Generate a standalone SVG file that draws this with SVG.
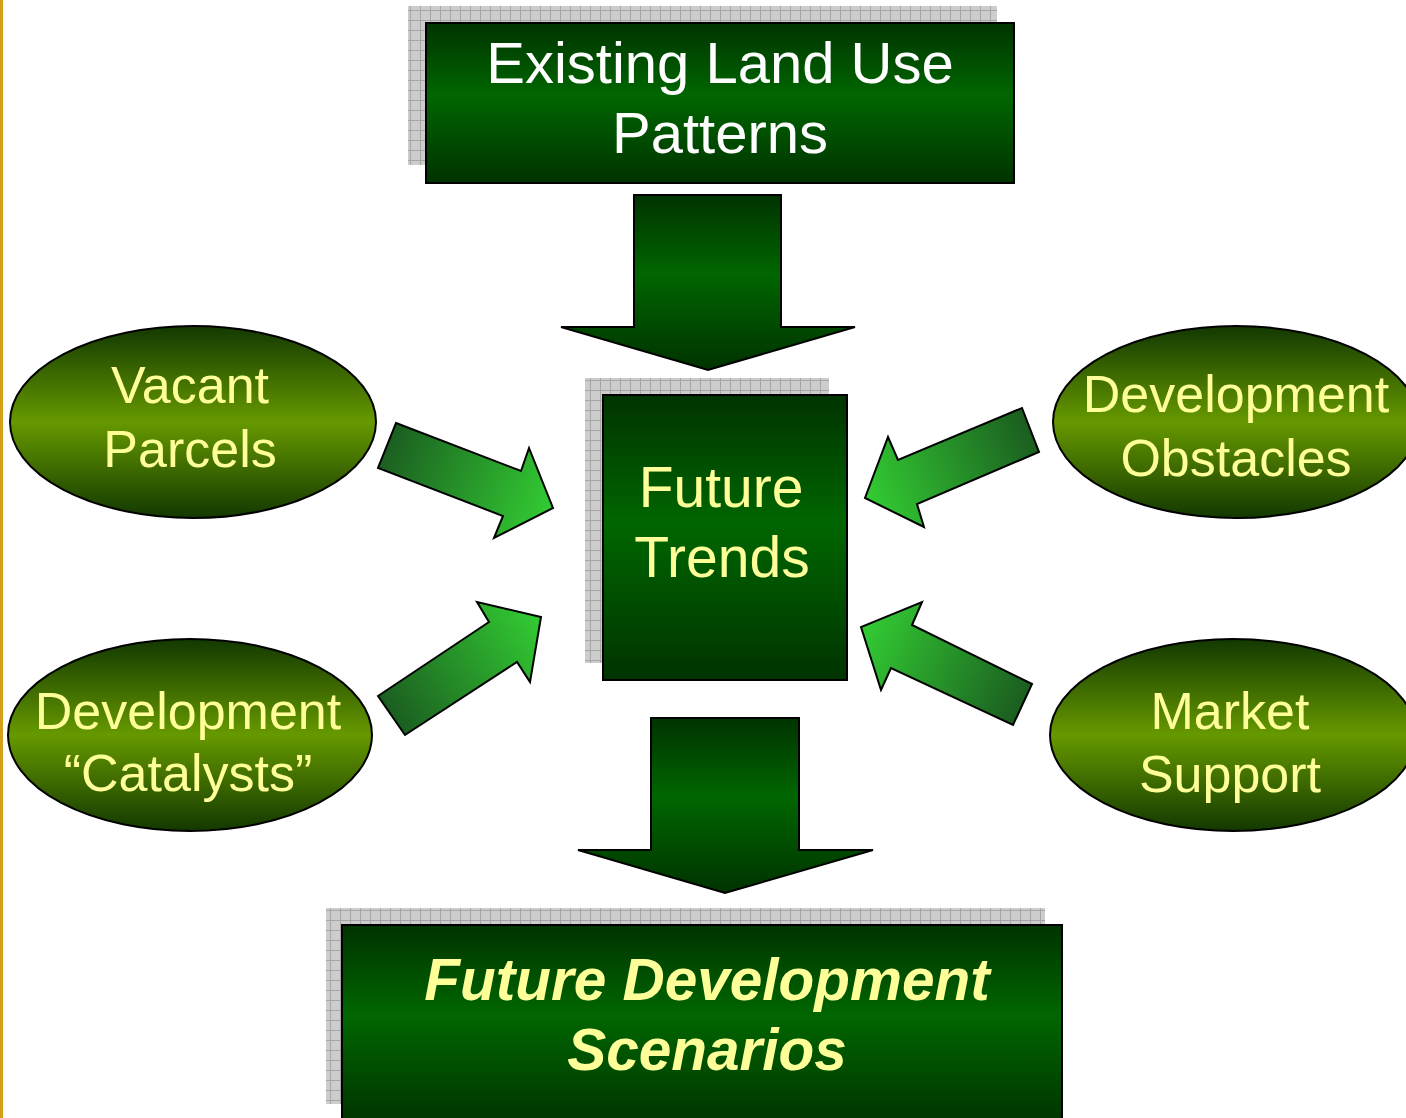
<svg xmlns="http://www.w3.org/2000/svg" width="1406" height="1118" viewBox="0 0 1406 1118">
<defs>
  <linearGradient id="boxGrad" x1="0" y1="0" x2="0" y2="1">
    <stop offset="0" stop-color="#003300"/>
    <stop offset="0.45" stop-color="#006600"/>
    <stop offset="1" stop-color="#003300"/>
  </linearGradient>
  <linearGradient id="ellGrad" x1="0" y1="0" x2="0" y2="1">
    <stop offset="0" stop-color="#133800"/>
    <stop offset="0.5" stop-color="#669900"/>
    <stop offset="1" stop-color="#133800"/>
  </linearGradient>
  <pattern id="grid" width="10" height="10" patternUnits="userSpaceOnUse">
    <rect width="10" height="10" fill="#cdcdcd"/>
    <path d="M0 0.5H10M0.5 0V10" stroke="#a6a6a6" stroke-width="1" fill="none"/>
  </pattern>
  <linearGradient id="ag1" gradientUnits="userSpaceOnUse" x1="387" y1="445" x2="553" y2="508">
    <stop offset="0" stop-color="#1b5e20"/><stop offset="1" stop-color="#33cc33"/>
  </linearGradient>
  <linearGradient id="ag2" gradientUnits="userSpaceOnUse" x1="1030" y1="430" x2="865" y2="498">
    <stop offset="0" stop-color="#1b5e20"/><stop offset="1" stop-color="#33cc33"/>
  </linearGradient>
  <linearGradient id="ag3" gradientUnits="userSpaceOnUse" x1="391" y1="715" x2="541" y2="617">
    <stop offset="0" stop-color="#1b5e20"/><stop offset="1" stop-color="#33cc33"/>
  </linearGradient>
  <linearGradient id="ag4" gradientUnits="userSpaceOnUse" x1="1022" y1="704" x2="861" y2="627">
    <stop offset="0" stop-color="#1b5e20"/><stop offset="1" stop-color="#33cc33"/>
  </linearGradient>
</defs>
<style>
  .box { fill: url(#boxGrad); stroke: #000; stroke-width: 2; }
  .shadow { fill: url(#grid); }
  .ell { fill: url(#ellGrad); stroke: #000; stroke-width: 2; }
  .down { fill: url(#boxGrad); stroke: #000; stroke-width: 2; stroke-linejoin: miter; }
  .diag { stroke: #000; stroke-width: 2; stroke-linejoin: miter; }
  .t { font-family: "Liberation Sans", Arial, sans-serif; text-anchor: middle; fill: #ffff99; }
  .w { fill: #ffffff; }
  .bi { font-weight: bold; font-style: italic; }
</style>
<rect width="1406" height="1118" fill="#ffffff"/>
<rect x="0" y="0" width="3" height="1118" fill="#d4a017"/>

<g id="existing-land-use">
  <rect class="shadow" x="408" y="6" width="589" height="159"/>
  <rect class="box" x="426" y="23" width="588" height="160"/>
  <text class="t w" x="720" y="83" font-size="58">Existing Land Use</text>
  <text class="t w" x="720" y="153" font-size="58">Patterns</text>
</g>

<g id="future-trends">
  <rect class="shadow" x="585" y="378" width="244" height="285"/>
  <rect class="box" x="603" y="395" width="244" height="285"/>
  <text class="t" x="721" y="507" font-size="57">Future</text>
  <text class="t" x="722" y="577" font-size="57">Trends</text>
</g>

<g id="future-development-scenarios">
  <rect class="shadow" x="326" y="908" width="719" height="196"/>
  <rect class="box" x="342" y="925" width="720" height="200"/>
  <text class="t bi" x="707" y="1000" font-size="58.5">Future Development</text>
  <text class="t bi" x="707" y="1070" font-size="58.5">Scenarios</text>
</g>

<g id="vacant-parcels">
  <ellipse class="ell" cx="193" cy="422" rx="183" ry="96"/>
  <text class="t" x="190" y="403" font-size="52">Vacant</text>
  <text class="t" x="190" y="467" font-size="52">Parcels</text>
</g>

<g id="development-catalysts">
  <ellipse class="ell" cx="190" cy="735" rx="182" ry="96"/>
  <text class="t" x="188" y="729" font-size="52">Development</text>
  <text class="t" x="188" y="791" font-size="52">“Catalysts”</text>
</g>

<g id="development-obstacles">
  <ellipse class="ell" cx="1236" cy="422" rx="183" ry="96"/>
  <text class="t" x="1236" y="412" font-size="52">Development</text>
  <text class="t" x="1236" y="476" font-size="52">Obstacles</text>
</g>

<g id="market-support">
  <ellipse class="ell" cx="1233" cy="735" rx="183" ry="96"/>
  <text class="t" x="1230" y="729" font-size="52">Market</text>
  <text class="t" x="1230" y="792" font-size="52">Support</text>
</g>

<g id="connectors">
  <polygon class="down" points="634,195 781,195 781,327 855,327 708,370 561,327 634,327"/>
  <polygon class="down" points="651,718 799,718 799,850 873,850 725,893 578,850 651,850"/>
  <polygon class="diag" fill="url(#ag1)" points="396,423 521,471 529,448 553,508 494,538 503,516 378,468"/>
  <polygon class="diag" fill="url(#ag2)" points="1022,408 1039,452 917,504 924,527 865,498 888,437 898,460"/>
  <polygon class="diag" fill="url(#ag3)" points="378,696 489,622 477,602 541,617 530,682 517,662 405,735"/>
  <polygon class="diag" fill="url(#ag4)" points="1032,684 912,625 922,602 861,627 881,690 891,668 1013,725"/>
</g>
</svg>
